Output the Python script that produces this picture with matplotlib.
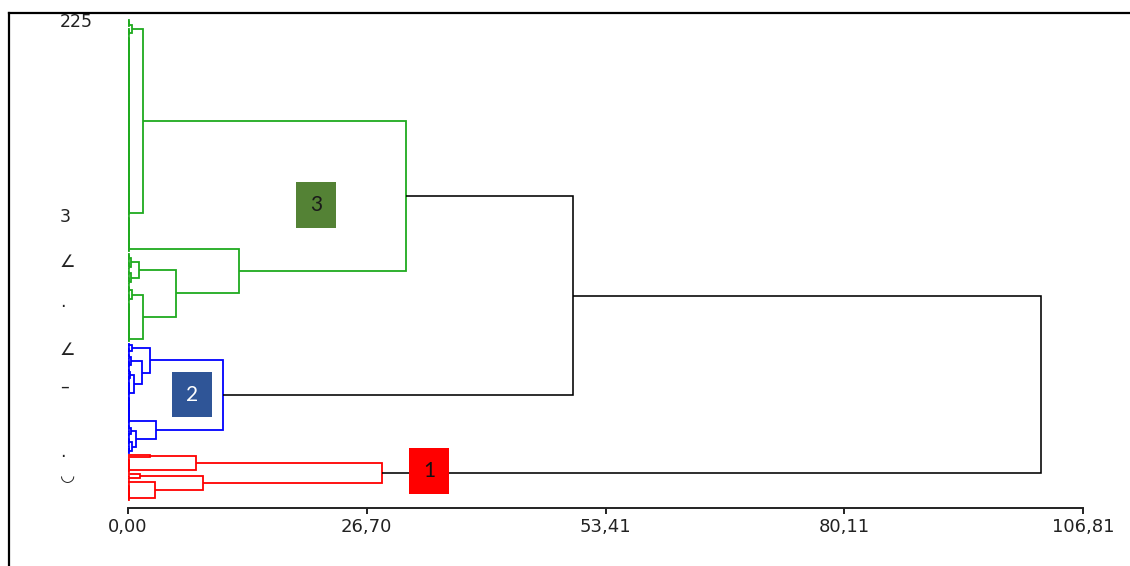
import matplotlib
matplotlib.use("Agg")
import matplotlib.pyplot as plt
from matplotlib.collections import LineCollection
from matplotlib.patches import Rectangle
from matplotlib.lines import Line2D

# ---- dendrogram data -------------------------------------------------------
# A node is either an int n (a block of n near-identical leaves joined at
# DUP_HEIGHT) or a tuple (merge_height, left, right).
DUP_HEIGHT = 0.1

cluster3_tree = (31.1,
                 (1.7, (0.45, 4, 4), 84),
                 (12.4, 17,
                  (5.4,
                   (1.2, (0.35, 4, 4), (0.3, 3, 4)),
                   (1.7, (0.4, 4, 4), 19))))

cluster2_tree = (10.6,
                 (2.5, (0.4, 2, 3),
                  (1.6, (0.3, 3, 4), (0.7, (0.25, 3, 3), 7))),
                 (3.1, 13, (0.9, (0.3, 3, 3), (0.4, 4, 4))))

cluster1_tree = (28.4,
                 (7.6, (2.5, 1, 1), 7),
                 (8.4, (1.3, 1, 2), (3.0, 2, 8)))

upper_join_height = 49.8
root_height = 102.1

cluster_names = ["3", "2", "1"]
cluster_colors = ["#1faa1f", "#0000ff", "#ff0000"]
box_colors = ["#548235", "#2f5597", "#ff0000"]
box_text_colors = ["#1a1a1a", "#ffffff", "#111111"]

x_ticks = [0.00, 26.70, 53.41, 80.11, 106.81]
x_tick_labels = ["0,00", "26,70", "53,41", "80,11", "106,81"]

leaf_label_pos = [0, 91, 112, 133, 153, 170, 203, 212]
leaf_label_text = ["225", "3", "\u2220", "\u00b7", "\u2220", "\u2013", "\u00b7", "\u25e1"]

# ---- layout ------------------------------------------------------------------
segments = {c: [] for c in cluster_colors + ["black"]}
leaf_counter = [0]


def next_leaf():
    y = leaf_counter[0]
    leaf_counter[0] += 1
    return float(y)


def build(node, color):
    """Return (connection y, height) of node; store its links."""
    if isinstance(node, int):
        y, h = next_leaf(), 0.0
        for _ in range(1, node):
            y2 = next_leaf()
            segments[color].append([(h, y), (DUP_HEIGHT, y), (DUP_HEIGHT, y2), (0.0, y2)])
            y, h = (y + y2) / 2, DUP_HEIGHT
        return y, h
    height, left, right = node
    yl, hl = build(left, color)
    yr, hr = build(right, color)
    segments[color].append([(hl, yl), (height, yl), (height, yr), (hr, yr)])
    return (yl + yr) / 2, height


y3, h3 = build(cluster3_tree, cluster_colors[0])
y2, h2 = build(cluster2_tree, cluster_colors[1])
y1, h1 = build(cluster1_tree, cluster_colors[2])
y_up = (y3 + y2) / 2
segments["black"].append([(h3, y3), (upper_join_height, y3), (upper_join_height, y2), (h2, y2)])
segments["black"].append([(upper_join_height, y_up), (root_height, y_up), (root_height, y1), (h1, y1)])
n_leaves = leaf_counter[0]

# ---- figure ------------------------------------------------------------------
W, H = 1130, 566
fig = plt.figure(figsize=(W / 100, H / 100), dpi=100)
fig.patch.set_facecolor("white")

px_left, px_right, px_top, px_bottom = 128, 1083, 14, 508
ax = fig.add_axes([px_left / W, (H - px_bottom) / H,
                   (px_right - px_left) / W, (px_bottom - px_top) / H])
ax.set_xlim(x_ticks[0], x_ticks[-1])
leaf_px = (500 - 20) / (n_leaves - 1)
ax.set_ylim((px_bottom - 20) / leaf_px, (px_top - 20) / leaf_px)

for color, segs in segments.items():
    lw = 1.15 if color == "black" else 1.3
    lc = LineCollection(segs, colors=color, linewidths=lw, capstyle="butt",
                        joinstyle="miter", zorder=2, clip_on=False)
    ax.add_collection(lc)

# cluster number boxes
box_extents = [  # (x0, x1, y0, y1) in data units
    (18.8, 23.25, 75.6, 97.1),
    (4.95, 9.4, 164.3, 185.3),
    (31.45, 35.9, 199.7, 221.2),
]
for name, (x0, x1, b0, b1), fc, tc in zip(cluster_names, box_extents, box_colors, box_text_colors):
    ax.add_patch(Rectangle((x0, b0), x1 - x0, b1 - b0, facecolor=fc,
                           edgecolor="none", zorder=4))
    ax.text((x0 + x1) / 2, (b0 + b1) / 2, name, ha="center", va="center",
            color=tc, fontsize=15, family="Lato", zorder=5)

# axes styling
for side in ["left", "right", "top"]:
    ax.spines[side].set_visible(False)
ax.spines["bottom"].set_linewidth(1.4)
ax.spines["bottom"].set_color("#222222")
ax.set_xticks(x_ticks, x_tick_labels)
ax.tick_params(axis="x", direction="out", length=4, width=1.4, color="#222222",
               pad=3, labelsize=13, labelcolor="#222222")
ax.set_yticks(leaf_label_pos, leaf_label_text)
ax.tick_params(axis="y", length=0, pad=49, labelsize=12.5, labelcolor="#222222")
for lab in ax.get_yticklabels():
    lab.set_ha("left")

# outer frame
fig.add_artist(Line2D([9 / W, 9 / W], [0, 1 - 13 / H], color="black", lw=1.6,
                      transform=fig.transFigure))
fig.add_artist(Line2D([9 / W, 1], [1 - 13 / H, 1 - 13 / H], color="black", lw=1.6,
                      transform=fig.transFigure))

fig.savefig("out.png", dpi=100)
